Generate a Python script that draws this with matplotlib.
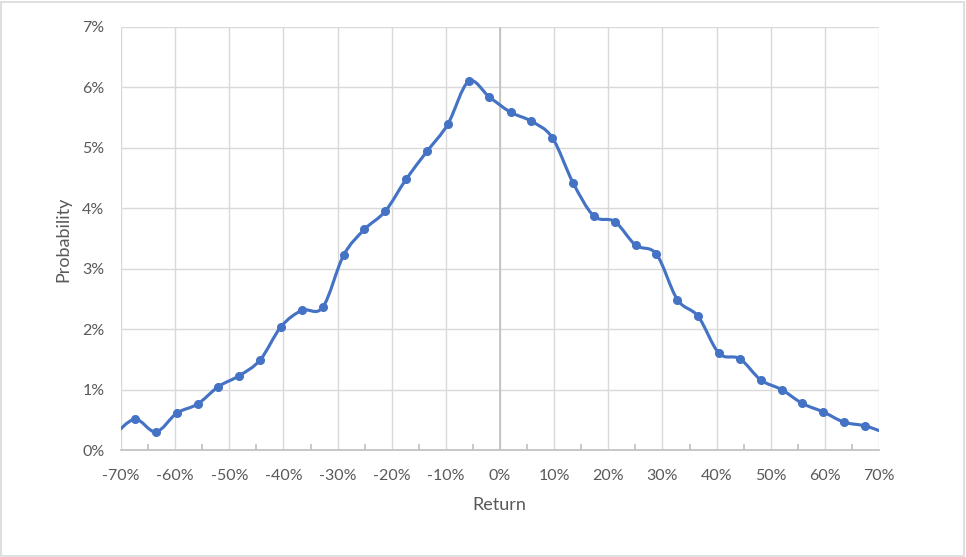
import matplotlib
matplotlib.use('Agg')
import matplotlib.pyplot as plt
from matplotlib.path import Path
from matplotlib.patches import PathPatch, Rectangle
from matplotlib.ticker import MultipleLocator, FuncFormatter

# ---- data (percent units) ----
returns = [-67.4, -63.55, -59.7, -55.85, -52.0, -48.15, -44.3, -40.45, -36.6,
           -32.75, -28.9, -25.05, -21.2, -17.35, -13.5, -9.65, -5.8, -1.95,
           1.95, 5.8, 9.65, 13.5, 17.35, 21.2, 25.05, 28.9, 32.75, 36.6,
           40.45, 44.3, 48.15, 52.0, 55.85, 59.7, 63.55, 67.4]
probability = [0.51, 0.30, 0.61, 0.76, 1.05, 1.23, 1.49, 2.04, 2.31,
               2.36, 3.22, 3.65, 3.95, 4.48, 4.94, 5.39, 6.10, 5.84,
               5.59, 5.44, 5.17, 4.42, 3.87, 3.78, 3.39, 3.24, 2.49, 2.21,
               1.60, 1.51, 1.16, 1.00, 0.77, 0.63, 0.46, 0.40]
# points just outside the visible range (clipped by the axes)
edge_returns = [-71.25, 71.25]
edge_probability = [0.25, 0.28]

x_ticks = [-70, -60, -50, -40, -30, -20, -10, 0, 10, 20, 30, 40, 50, 60, 70]
y_ticks = [0, 1, 2, 3, 4, 5, 6, 7]

LINE = '#4472C4'
GRID = '#d9d9d9'
AXIS = '#bfbfbf'
TXT = '#595959'
FONT = 'Lato'

fig = plt.figure(figsize=(9.66, 5.57), dpi=100)
fig.patch.set_facecolor('white')
fig.patches.append(Rectangle((0.6 / 966, 0.6 / 557), 963.6 / 966, 554.6 / 557,
                             transform=fig.transFigure, fill=False,
                             edgecolor=GRID, lw=1.2))

ax = fig.add_axes([121 / 966, 1 - 450 / 557, 758 / 966, 423 / 557])
ax.set_xlim(-70, 70)
ax.set_ylim(0, 7)

ax.xaxis.set_minor_locator(MultipleLocator(5))
ax.set_xticks(x_ticks)
ax.set_yticks(y_ticks)
fmt = FuncFormatter(lambda v, p: f"{v:.0f}%")
ax.xaxis.set_major_formatter(fmt)
ax.yaxis.set_major_formatter(fmt)

ax.grid(True, which='major', color=GRID, lw=1.0)
ax.set_axisbelow(True)
for s in ['top', 'right', 'left']:
    ax.spines[s].set_visible(False)
ax.spines['bottom'].set_color(AXIS)
ax.spines['bottom'].set_linewidth(1.2)
ax.axvline(0, color=AXIS, lw=1.2, zorder=1.5)

ax.tick_params(axis='x', which='major', length=0, pad=14, labelsize=11.5, labelcolor=TXT)
ax.tick_params(axis='x', which='minor', direction='in', length=4, width=1.2, color=AXIS)
ax.tick_params(axis='y', which='major', length=0, pad=12, labelsize=11.5, labelcolor=TXT)
for lab in ax.get_xticklabels() + ax.get_yticklabels():
    lab.set_fontfamily(FONT)

# smoothed line (Excel-like Bezier smoothing)
xs = [edge_returns[0]] + returns + [edge_returns[1]]
ys = [edge_probability[0]] + probability + [edge_probability[1]]
n = len(xs)
verts = [(xs[0], ys[0])]
codes = [Path.MOVETO]
for i in range(n - 1):
    a = i - 1 if i > 0 else i
    d = i + 2 if i + 2 < n else i + 1
    c1 = (xs[i] + (xs[i + 1] - xs[a]) / 6, ys[i] + (ys[i + 1] - ys[a]) / 6)
    c2 = (xs[i + 1] - (xs[d] - xs[i]) / 6, ys[i + 1] - (ys[d] - ys[i]) / 6)
    verts += [c1, c2, (xs[i + 1], ys[i + 1])]
    codes += [Path.CURVE4] * 3
patch = PathPatch(Path(verts, codes), facecolor='none', edgecolor=LINE,
                  lw=2.25, capstyle='round', joinstyle='round', zorder=3)
ax.add_patch(patch)
ax.plot(returns, probability, 'o', color=LINE, ms=5.5, zorder=4, clip_on=True)

fig.text(499.5 / 966, 1 - 505 / 557, 'Return', ha='center', va='center',
         fontsize=13, color=TXT, family=FONT)
fig.text(63 / 966, 1 - 239 / 557, 'Probability', ha='center', va='center',
         rotation=90, fontsize=13, color=TXT, family=FONT)

fig.savefig('out.png', dpi=100, facecolor='white')
